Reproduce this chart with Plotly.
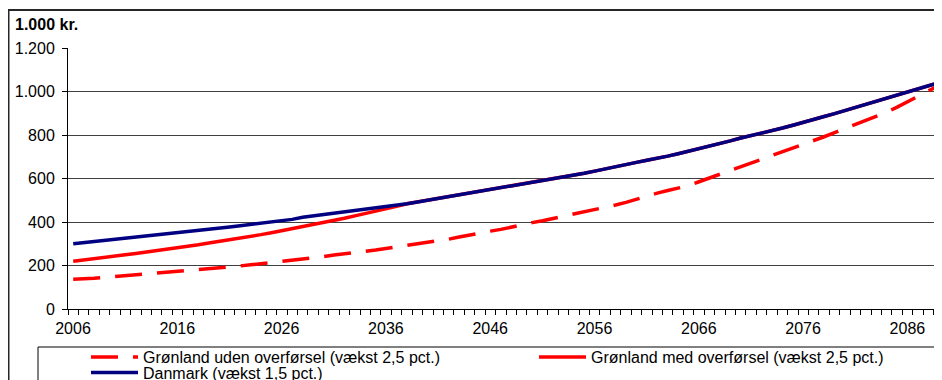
import plotly.graph_objects as go

years = list(range(2006, 2091))

danmark = [300, 305, 310, 315, 321, 324, 328, 334, 339, 344,
           349, 355, 362, 365, 370, 377, 383, 389, 394, 399,
           405, 412, 422, 428, 434, 440, 446, 451, 458, 467,
           473, 478, 484, 492, 500, 508, 516, 526, 533, 541,
           550, 559, 567, 576, 583, 592, 600, 605, 615, 624,
           634, 645, 653, 663, 674, 684, 692, 703, 714, 725,
           736, 748, 760, 773, 786, 797, 807, 819, 832, 845,
           857, 871, 885, 898, 912, 928, 941, 955, 969, 983,
           995, 1010, 1024, 1040, 1055]

groenland_med = [220, 225, 231, 237, 243, 249, 255, 261, 268, 275,
                 281, 288, 295, 303, 310, 318, 326, 334, 342, 351,
                 360, 369, 378, 387, 397, 407, 417, 428, 438, 449,
                 460, 472, 484, 492, 500, 508, 516, 526, 533, 541,
                 550, 559, 567, 576, 583, 592, 600, 605, 615, 624,
                 634, 645, 653, 663, 674, 684, 692, 703, 714, 725,
                 736, 748, 760, 773, 786, 797, 807, 819, 832, 845,
                 857, 871, 885, 898, 912, 928, 941, 955, 969, 983,
                 995, 1010, 1024, 1040, 1055]

groenland_uden = [137, 138, 141, 145, 149, 151, 154, 158, 163, 167,
                  170, 174, 178, 183, 188, 193, 198, 203, 208, 213,
                  217, 222, 228, 234, 241, 248, 255, 259, 265, 271,
                  278, 284, 290, 297, 304, 312, 321, 331, 341, 350,
                  358, 366, 377, 388, 397, 406, 416, 425, 435, 445,
                  456, 467, 478, 490, 505, 520, 533, 545, 556, 567,
                  585, 602, 620, 640, 656, 671, 688, 705, 721, 738,
                  755, 773, 792, 811, 829, 848, 866, 885, 905, 928,
                  952, 977, 1003, 1028]

x_tick_labels = ["2006", "2016", "2026", "2036", "2046", "2056", "2066", "2076", "2086"]
y_tick_vals = [0, 200, 400, 600, 800, 1000, 1200]
y_tick_text = ["0", "200", "400", "600", "800", "1.000", "1.200"]

names = ["Grønland uden overførsel (vækst 2,5 pct.)",
         "Grønland med overførsel (vækst 2,5 pct.)",
         "Danmark (vækst 1,5 pct.)"]

FONT = "Liberation Sans, Arial, sans-serif"

# tick marks sit between categories (year boundaries); labels centred on years
x_tickvals = [y - 0.5 for y in years]
x_ticktext = [str(y) if str(y) in x_tick_labels else "" for y in years]

fig = go.Figure()
fig.add_trace(go.Scatter(x=years[:len(groenland_uden)], y=groenland_uden, mode="lines",
                         name=names[0], legend="legend",
                         line=dict(color="#FF0000", width=3.5, dash="27px,15px")))
fig.add_trace(go.Scatter(x=years, y=groenland_med, mode="lines", name=names[1],
                         legend="legend2",
                         line=dict(color="#FF0000", width=3.5)))
fig.add_trace(go.Scatter(x=years, y=danmark, mode="lines", name=names[2],
                         legend="legend3",
                         line=dict(color="#000080", width=3.5)))

W, H = 942, 380
OFF = 8  # page body margin
L = 68 - OFF
T = 48 - OFF
B = H - (309 - OFF)
R = W - (944 - OFF)
PW = W - L - R
PH = H - T - B
YEAR_PX = 10.43


def px_x(p):
    return (p - OFF - L) / PW


def px_y(p):
    return (H - B - (p - OFF)) / PH


leg_common = dict(orientation="v", xref="container", yref="container",
                  xanchor="left", yanchor="middle", bgcolor="rgba(0,0,0,0)",
                  borderwidth=0, itemwidth=47,
                  font=dict(family=FONT, size=16, color="black"))

fig.update_layout(
    width=W, height=H,
    margin=dict(l=L, r=R, t=T, b=B, pad=0, autoexpand=False),
    paper_bgcolor="white", plot_bgcolor="white",
    font=dict(family=FONT, size=16, color="black"),
    showlegend=True,
    legend=dict(x=(78) / W, y=1 - (357 - OFF) / H, **leg_common),
    legend2=dict(x=(526) / W, y=1 - (357 - OFF) / H, **leg_common),
    legend3=dict(x=(78) / W, y=1 - (372.5 - OFF) / H, **leg_common),
    xaxis=dict(range=[2005.5, 2005.5 + PW / YEAR_PX], tickmode="array",
               tickvals=x_tickvals, ticktext=x_ticktext, ticks="outside",
               ticklen=5, tickcolor="black", tickwidth=1,
               ticklabelshift=5, ticklabelstandoff=0,
               showgrid=False, zeroline=False, showline=True,
               linecolor="black", linewidth=1, automargin=False,
               tickfont=dict(family=FONT, size=16, color="black")),
    yaxis=dict(range=[0, 1200], tickmode="array", tickvals=y_tick_vals,
               ticktext=y_tick_text, ticks="outside", ticklen=5,
               tickcolor="black", showgrid=True, gridcolor="#404040",
               gridwidth=1, zeroline=False, showline=True, linecolor="black",
               linewidth=1, ticklabelstandoff=4, automargin=False,
               tickfont=dict(family=FONT, size=16, color="black")),
    annotations=[dict(text="<b>1.000 kr.</b>", xref="paper", yref="paper",
                      x=px_x(13), y=px_y(25), xanchor="left", yanchor="middle",
                      showarrow=False,
                      font=dict(family=FONT, size=16, color="black"))],
    shapes=[
        dict(type="rect", xref="paper", yref="paper",
             x0=px_x(8.5), x1=px_x(960), y0=px_y(420), y1=px_y(10),
             line=dict(color="#262626", width=2), fillcolor="rgba(0,0,0,0)",
             layer="above"),
        dict(type="rect", xref="paper", yref="paper",
             x0=px_x(38), x1=px_x(936), y0=px_y(400), y1=px_y(347),
             line=dict(color="black", width=1), fillcolor="rgba(0,0,0,0)",
             layer="above"),
    ],
)

fig.write_html("out.html")
